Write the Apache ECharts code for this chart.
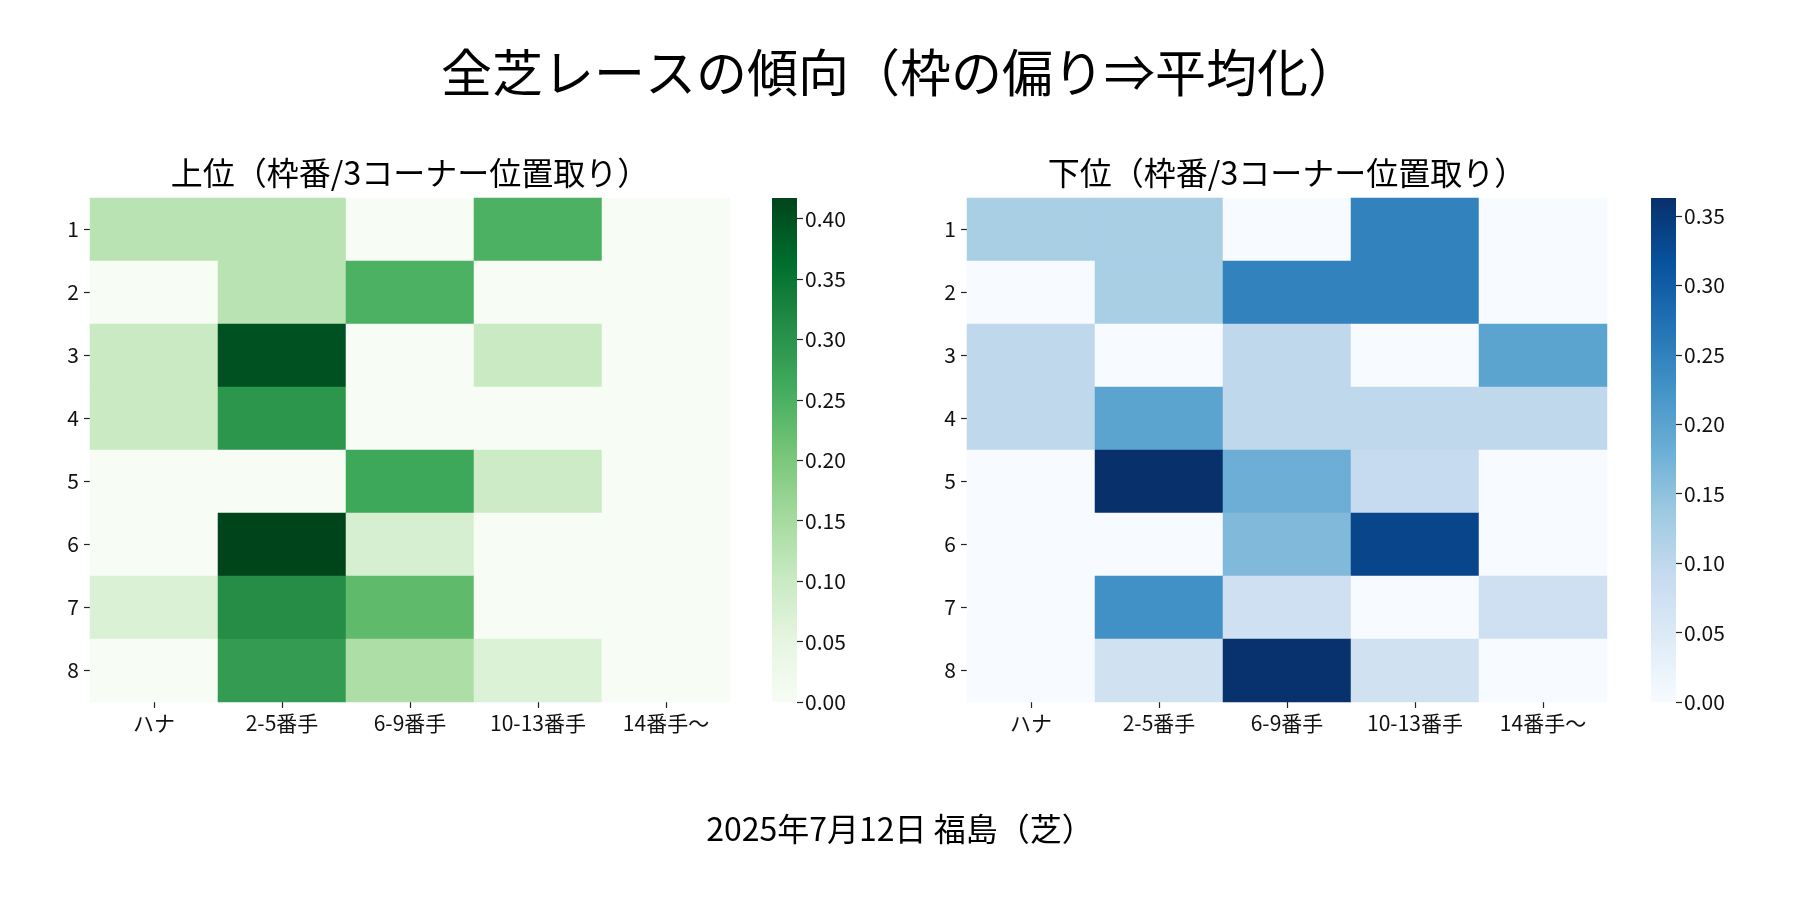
<!DOCTYPE html>
<html>
<head>
<meta charset="utf-8">
<script src="https://cdn.jsdelivr.net/npm/echarts@6/dist/echarts.min.js"></script>
<style>
  html, body { margin: 0; padding: 0; background: #fff; }
  #main { width: 1800px; height: 900px; }
</style>
</head>
<body>
<div id="main"></div>
<script>
// 列（3コーナー位置取り）と行（枠番）
var positions = ['ハナ', '2-5番手', '6-9番手', '10-13番手', '14番手〜'];
var gates = ['1', '2', '3', '4', '5', '6', '7', '8'];

// 上位：枠番ごとの割合（行=枠番1..8, 列=positions）
var topRows = [
    [0.123, 0.123, 0.000, 0.248, 0.000],
    [0.000, 0.123, 0.248, 0.000, 0.000],
    [0.100, 0.400, 0.000, 0.100, 0.000],
    [0.100, 0.295, 0.000, 0.000, 0.000],
    [0.000, 0.000, 0.267, 0.095, 0.000],
    [0.000, 0.417, 0.078, 0.000, 0.000],
    [0.070, 0.310, 0.230, 0.000, 0.000],
    [0.000, 0.285, 0.141, 0.067, 0.000]
];

// 下位
var bottomRows = [
    [0.124, 0.124, 0.000, 0.249, 0.000],
    [0.000, 0.124, 0.249, 0.249, 0.000],
    [0.099, 0.000, 0.099, 0.000, 0.198],
    [0.099, 0.198, 0.099, 0.099, 0.099],
    [0.000, 0.363, 0.181, 0.091, 0.000],
    [0.000, 0.000, 0.163, 0.334, 0.000],
    [0.000, 0.228, 0.076, 0.000, 0.076],
    [0.000, 0.072, 0.360, 0.072, 0.000]
];

var topMax = 0.417;
var bottomMax = 0.363;

var topTicks = [0, 0.05, 0.10, 0.15, 0.20, 0.25, 0.30, 0.35, 0.40];
var bottomTicks = [0, 0.05, 0.10, 0.15, 0.20, 0.25, 0.30, 0.35];

// matplotlib Greens / Blues
var greens = ['#f7fcf5', '#e5f5e0', '#c7e9c0', '#a1d99b', '#74c476', '#41ab5d', '#238b45', '#006d2c', '#00441b'];
var blues = ['#f7fbff', '#deebf7', '#c6dbef', '#9ecae1', '#6baed6', '#4292c6', '#2171b5', '#08519c', '#08306b'];

var font = '"Noto Sans CJK JP", "Noto Sans", sans-serif';

function toCells(rows) {
    var out = [];
    for (var r = 0; r < rows.length; r++) {
        for (var c = 0; c < rows[r].length; c++) {
            out.push([c, r, rows[r][c]]);
        }
    }
    return out;
}

function gradient(colors) {
    var stops = [];
    for (var i = 0; i < colors.length; i++) {
        stops.push({ offset: i / (colors.length - 1), color: colors[i] });
    }
    return new echarts.graphic.LinearGradient(0, 1, 0, 0, stops);
}

var heatLeft = [90, 967];
var barLeft = [772, 1651];
var gridTop = 198;
var gridHeight = 504;

function heatAxes(idx) {
    return {
        x: {
            type: 'category', gridIndex: idx, data: positions,
            axisLine: { show: false },
            axisTick: { show: true, alignWithLabel: true, length: 6, lineStyle: { color: '#222', width: 1.2 } },
            axisLabel: { color: '#111', fontSize: 21, fontFamily: font, margin: 11 },
            splitLine: { show: false }
        },
        y: {
            type: 'category', gridIndex: idx, data: gates, inverse: true,
            axisLine: { show: false },
            axisTick: { show: true, alignWithLabel: true, length: 6, lineStyle: { color: '#222', width: 1.2 } },
            axisLabel: { color: '#111', fontSize: 21, fontFamily: font, margin: 11 },
            splitLine: { show: false }
        }
    };
}

function barAxes(idx, max, ticks) {
    return {
        x: { type: 'category', gridIndex: idx, data: [''], show: false },
        y: {
            type: 'value', gridIndex: idx, position: 'right', min: 0, max: max,
            axisLine: { show: false },
            splitLine: { show: false },
            axisTick: { show: true, length: 6, customValues: ticks, lineStyle: { color: '#222', width: 1.2 } },
            axisLabel: {
                color: '#111', fontSize: 21, fontFamily: font, margin: 8,
                customValues: ticks,
                formatter: function(v) { return v.toFixed(2); }
            }
        }
    };
}

var a0 = heatAxes(0), a1 = heatAxes(1);
var b0 = barAxes(2, topMax, topTicks), b1 = barAxes(3, bottomMax, bottomTicks);

var chart = echarts.init(document.getElementById('main'));

var option = {
    backgroundColor: '#fff',
    animation: false,
    textStyle: { fontFamily: font },
    title: [
        {
            text: '全芝レースの傾向（枠の偏り⇒平均化）', left: 900, top: 47, textAlign: 'center', padding: 0,
            textStyle: { fontSize: 51, fontWeight: 'normal', color: '#000', fontFamily: font }
        },
        {
            text: '上位（枠番/3コーナー位置取り）', left: 410, top: 157, textAlign: 'center', padding: 0,
            textStyle: { fontSize: 32, fontWeight: 'normal', color: '#000', fontFamily: font }
        },
        {
            text: '下位（枠番/3コーナー位置取り）', left: 1287, top: 157, textAlign: 'center', padding: 0,
            textStyle: { fontSize: 32, fontWeight: 'normal', color: '#000', fontFamily: font }
        },
        {
            text: '2025年7月12日 福島（芝）', left: 900, top: 813, textAlign: 'center', padding: 0,
            textStyle: { fontSize: 32, fontWeight: 'normal', color: '#000', fontFamily: font }
        }
    ],
    grid: [
        { left: heatLeft[0], top: gridTop, width: 640, height: gridHeight },
        { left: heatLeft[1], top: gridTop, width: 640, height: gridHeight },
        { left: barLeft[0], top: gridTop, width: 25, height: gridHeight },
        { left: barLeft[1], top: gridTop, width: 25, height: gridHeight }
    ],
    xAxis: [a0.x, a1.x, b0.x, b1.x],
    yAxis: [a0.y, a1.y, b0.y, b1.y],
    visualMap: [
        { type: 'continuous', show: false, min: 0, max: topMax, seriesIndex: 0, inRange: { color: greens } },
        { type: 'continuous', show: false, min: 0, max: bottomMax, seriesIndex: 1, inRange: { color: blues } }
    ],
    series: [
        { type: 'heatmap', xAxisIndex: 0, yAxisIndex: 0, data: toCells(topRows), itemStyle: { borderWidth: 0 } },
        { type: 'heatmap', xAxisIndex: 1, yAxisIndex: 1, data: toCells(bottomRows), itemStyle: { borderWidth: 0 } },
        {
            type: 'bar', xAxisIndex: 2, yAxisIndex: 2, data: [topMax], barWidth: '100%',
            itemStyle: { color: gradient(greens) }, silent: true
        },
        {
            type: 'bar', xAxisIndex: 3, yAxisIndex: 3, data: [bottomMax], barWidth: '100%',
            itemStyle: { color: gradient(blues) }, silent: true
        }
    ]
};

chart.setOption(option);
</script>
</body>
</html>
